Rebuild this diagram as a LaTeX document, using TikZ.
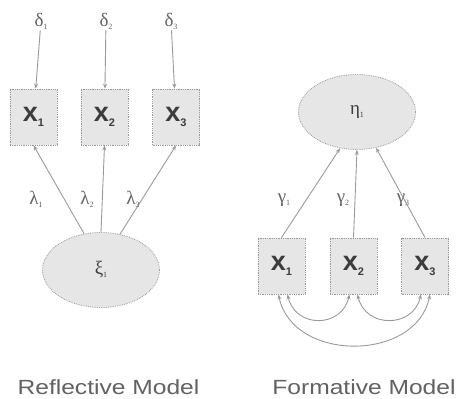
\documentclass[tikz,border=0pt]{standalone}
\usepackage{fontspec}
\setmainfont{Liberation Sans}
\newfontfamily\greekfont{Liberation Serif}
\newfontfamily\capfont[FakeStretch=1.2]{Liberation Sans}
\usetikzlibrary{arrows.meta,shapes.geometric}
\definecolor{boxfill}{HTML}{E6E6E6}
\definecolor{edgegray}{HTML}{9A9A9A}
\definecolor{inkgray}{HTML}{626262}
\definecolor{darkink}{HTML}{3C3C3C}
% indicator label: bold x with a small lowered index
\newcommand{\indlabel}[1]{x\raisebox{-5pt}{\fontsize{11}{11}\selectfont #1}}
% greek symbol with a small lowered index
\newcommand{\grk}[2]{#1\raisebox{-3pt}{\fontsize{8}{8}\selectfont #2}}
\begin{document}
\begin{tikzpicture}[x=1pt,y=-1pt,
  indicator/.style={draw=edgegray, densely dotted, fill=boxfill, line width=0.8pt,
    minimum width=47pt, minimum height=56pt, inner sep=0pt,
    font=\fontsize{27}{27}\selectfont\bfseries, text=darkink},
  latent/.style={ellipse, draw=edgegray, densely dotted, fill=boxfill, line width=0.8pt,
    minimum width=117pt, minimum height=75pt, inner sep=0pt,
    font=\greekfont\fontsize{19}{19}\selectfont, text=darkink},
  coef/.style={font=\greekfont\fontsize{19}{19}\selectfont, text=inkgray, inner sep=1pt},
  link/.style={draw=edgegray, line width=0.9pt, -{Stealth[length=5pt,width=4pt]}},
  twoway/.style={draw=edgegray, line width=0.9pt, {Stealth[length=5pt,width=4pt]}-{Stealth[length=5pt,width=4pt]}},
  caption/.style={font=\capfont\fontsize{20.5}{20.5}\selectfont, text=inkgray}]
\useasboundingbox (0,0) rectangle (459,399);

% ---------- reflective model ----------
\node[coef] (d1) at (41,21) {\grk{δ}{1}};
\node[coef] (d2) at (106,21) {\grk{δ}{2}};
\node[coef] (d3) at (171,21) {\grk{δ}{3}};

\node[indicator] (rx1) at (33.5,117) {\indlabel{1}};
\node[indicator] (rx2) at (104.5,117) {\indlabel{2}};
\node[indicator] (rx3) at (176,117) {\indlabel{3}};

\node[latent] (xi) at (101,270) {\grk{ξ}{1}};

\draw[link] (d1) -- (rx1);
\draw[link] (d2) -- (rx2);
\draw[link] (d3) -- (rx3);

\draw[link] (xi.115) -- (rx1.south);
\draw[link] (xi.north) -- (rx2.south);
\draw[link] (xi.62) -- (rx3.south);

\node[coef] (l1) at (36,199) {\grk{λ}{1}};
\node[coef] (l2) at (87,199) {\grk{λ}{2}};
\node[coef] (l3) at (133,199) {\grk{λ}{3}};

\node[caption] (capL) at (108.5,387) {Reflective Model};

% ---------- formative model ----------
\node[latent] (eta) at (357,112) {\grk{η}{1}};

\node[indicator] (fx1) at (281.5,266) {\indlabel{1}};
\node[indicator] (fx2) at (353.5,266) {\indlabel{2}};
\node[indicator] (fx3) at (425,266) {\indlabel{3}};

\draw[link] (fx1.north) -- (eta.245);
\draw[link] (fx2.north) -- (eta.south);
\draw[link] (fx3.north) -- (eta.298);

\node[coef] (g1) at (284,200) {\grk{γ}{1}};
\node[coef] (g2) at (343,200) {\grk{γ}{2}};
\node[coef] (g3) at (403,200) {\grk{γ}{3}};

% correlations among the formative indicators
\coordinate (a1) at ([xshift=6pt]fx1.south);
\coordinate (a1o) at ([xshift=-3pt]fx1.south);
\coordinate (a2l) at ([xshift=-4pt]fx2.south);
\coordinate (a2r) at ([xshift=4pt]fx2.south);
\coordinate (a3) at ([xshift=-4pt]fx3.south);
\coordinate (a3o) at ([xshift=5pt]fx3.south);
\draw[twoway] (a1) .. controls ++(8,34) and ++(-8,34) .. (a2l);
\draw[twoway] (a2r) .. controls ++(8,34) and ++(-8,34) .. (a3);
\draw[twoway] (a1o) .. controls ++(14,68) and ++(-14,68) .. (a3o);

\node[caption] (capR) at (364,387) {Formative Model};
\end{tikzpicture}
\end{document}
